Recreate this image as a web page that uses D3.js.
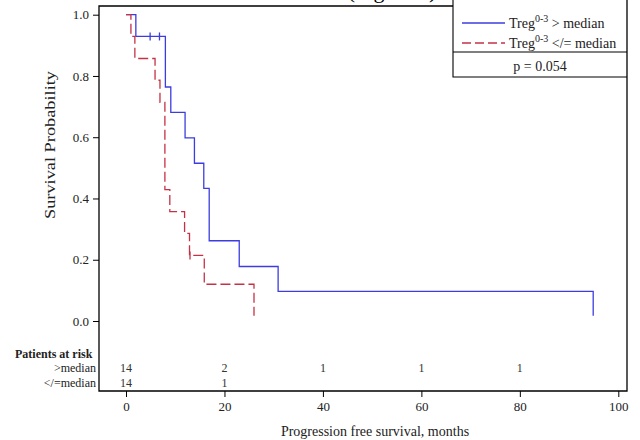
<!DOCTYPE html>
<html>
<head>
<meta charset="utf-8">
<script src="https://cdn.jsdelivr.net/npm/d3@7"></script>
<style>
  html, body { margin: 0; padding: 0; background: #fff; }
  svg { display: block; }
  text { font-family: "Liberation Serif", "DejaVu Serif", serif; }
</style>
</head>
<body>
<svg id="chart" width="640" height="440"></svg>
<script>
// ---- Data ----
const highTimes = [0, 2, 8, 9.1, 12, 13.9, 15.8, 16.9, 23, 30.9, 94.9];
const highSurv  = [1.0, 0.929, 0.764, 0.681, 0.598, 0.515, 0.433, 0.262, 0.178, 0.097, 0.017];
const highCensorTimes = [4.9, 6.8];
const highCensorSurv  = [0.929, 0.929];

const lowTimes = [0, 1, 1.8, 5.9, 6.9, 7.9, 8.9, 11.9, 12.9, 15.9, 26];
const lowSurv  = [1.0, 0.929, 0.857, 0.786, 0.714, 0.429, 0.357, 0.286, 0.214, 0.12, 0.017];
const lowCensorTimes = [13];
const lowCensorSurv  = [0.214];

const xTicks = [0, 20, 40, 60, 80, 100];
const yTicks = [0.0, 0.2, 0.4, 0.6, 0.8, 1.0];

const riskTimes = [0, 20, 40, 60, 80];
const riskHigh = [14, 2, 1, 1, 1];
const riskLow  = [14, 1];
const riskLabels = [">median", "</=median"];

const pValueText = "p = 0.054";

// ---- Scales ----
const svg = d3.select("#chart");
const x = d3.scaleLinear().domain([0, 100]).range([126, 618.3]);
const y = d3.scaleLinear().domain([0, 1]).range([321, 14.7]);

const frame = {left: 99, right: 627, top: 6, bottom: 391};
const legendLeft = 453;

// Caption fragment at the very top (clipped in the reference)
svg.append("text").attr("x", 392).attr("y", -2).attr("text-anchor", "middle")
  .attr("font-size", 22).attr("fill", "#000").text("(Figure 1)");

// Frame
svg.append("path")
  .attr("d", `M${legendLeft},${frame.top} H${frame.left} V${frame.bottom} H${frame.right} V0`)
  .attr("fill", "none").attr("stroke", "#000").attr("stroke-width", 1.3);

// Legend box
svg.append("path")
  .attr("d", `M${legendLeft},0 V77 H${frame.right} M${legendLeft},52 H${frame.right}`)
  .attr("fill", "none").attr("stroke", "#000").attr("stroke-width", 1.1);

// Y axis
const yAxis = d3.axisLeft(y).tickValues(yTicks).tickFormat(d3.format(".1f")).tickSize(6).tickPadding(4);
const gy = svg.append("g").attr("transform", `translate(${frame.left},0)`).call(yAxis);
gy.select(".domain").remove();
gy.selectAll("text").attr("font-family", "Liberation Serif").attr("font-size", 13).attr("fill", "#222");
gy.selectAll("line").attr("stroke", "#000");

// X axis
const xAxis = d3.axisBottom(x).tickValues(xTicks).tickFormat(d3.format("d")).tickSize(6).tickPadding(5);
const gx = svg.append("g").attr("transform", `translate(0,${frame.bottom})`).call(xAxis);
gx.select(".domain").remove();
gx.selectAll("text").attr("font-family", "Liberation Serif").attr("font-size", 13).attr("fill", "#222");
gx.selectAll("line").attr("stroke", "#000");

// Axis titles
svg.append("text").attr("transform", "translate(55,145) rotate(-90)")
  .attr("text-anchor", "middle").attr("font-size", 15).attr("fill", "#222")
  .attr("textLength", 148).attr("lengthAdjust", "spacingAndGlyphs")
  .text("Survival Probability");
svg.append("text").attr("x", 375).attr("y", 436)
  .attr("text-anchor", "middle").attr("font-size", 14).attr("fill", "#222")
  .text("Progression free survival, months");

// Curves
const line = d3.line().x(d => x(d[0])).y(d => y(d[1])).curve(d3.curveStepAfter);
const blue = "#3c3ce0";
const red = "#c43246";

svg.append("path").datum(d3.zip(highTimes, highSurv))
  .attr("d", line).attr("fill", "none").attr("stroke", blue).attr("stroke-width", 1.3);
svg.append("path").datum(d3.zip(lowTimes, lowSurv))
  .attr("d", line).attr("fill", "none").attr("stroke", red).attr("stroke-width", 1.3)
  .attr("stroke-dasharray", "10,4");

// Censor marks
svg.selectAll(".cH").data(d3.zip(highCensorTimes, highCensorSurv)).enter().append("line")
  .attr("x1", d => x(d[0])).attr("x2", d => x(d[0]))
  .attr("y1", d => y(d[1]) - 4).attr("y2", d => y(d[1]) + 4)
  .attr("stroke", blue).attr("stroke-width", 1.3);
svg.selectAll(".cL").data(d3.zip(lowCensorTimes, lowCensorSurv)).enter().append("line")
  .attr("x1", d => x(d[0])).attr("x2", d => x(d[0]))
  .attr("y1", d => y(d[1]) - 4).attr("y2", d => y(d[1]) + 4)
  .attr("stroke", red).attr("stroke-width", 1.3);

// Legend entries
const legRows = [
  {y: 23, color: blue, dash: null, tail: " > median"},
  {y: 43, color: red, dash: "9,4", tail: " </= median"}
];
legRows.forEach(r => {
  svg.append("line").attr("x1", 462).attr("x2", 505).attr("y1", r.y).attr("y2", r.y)
    .attr("stroke", r.color).attr("stroke-width", 1.3).attr("stroke-dasharray", r.dash);
  const t = svg.append("text").attr("x", 509).attr("y", r.y + 5).attr("font-size", 14).attr("fill", "#222");
  t.append("tspan").text("Treg");
  t.append("tspan").attr("font-size", 10).attr("dy", -6).text("0-3");
  t.append("tspan").attr("dy", 6).text(r.tail);
});
svg.append("text").attr("x", 540).attr("y", 71).attr("text-anchor", "middle")
  .attr("font-size", 14).attr("fill", "#222").text(pValueText);

// Patients at risk table
svg.append("text").attr("x", 15).attr("y", 358).attr("font-size", 12)
  .attr("font-weight", "bold").attr("fill", "#222").text("Patients at risk");
svg.append("text").attr("x", 96).attr("y", 372).attr("text-anchor", "end")
  .attr("font-size", 12).attr("fill", "#222").text(riskLabels[0]);
svg.append("text").attr("x", 96).attr("y", 387).attr("text-anchor", "end")
  .attr("font-size", 12).attr("fill", "#222").text(riskLabels[1]);
svg.selectAll(".rH").data(riskHigh).enter().append("text")
  .attr("x", (d, i) => x(riskTimes[i])).attr("y", 372).attr("text-anchor", "middle")
  .attr("font-size", 12).attr("fill", "#333").text(d => d);
svg.selectAll(".rL").data(riskLow).enter().append("text")
  .attr("x", (d, i) => x(riskTimes[i])).attr("y", 387).attr("text-anchor", "middle")
  .attr("font-size", 12).attr("fill", "#333").text(d => d);
</script>
</body>
</html>
